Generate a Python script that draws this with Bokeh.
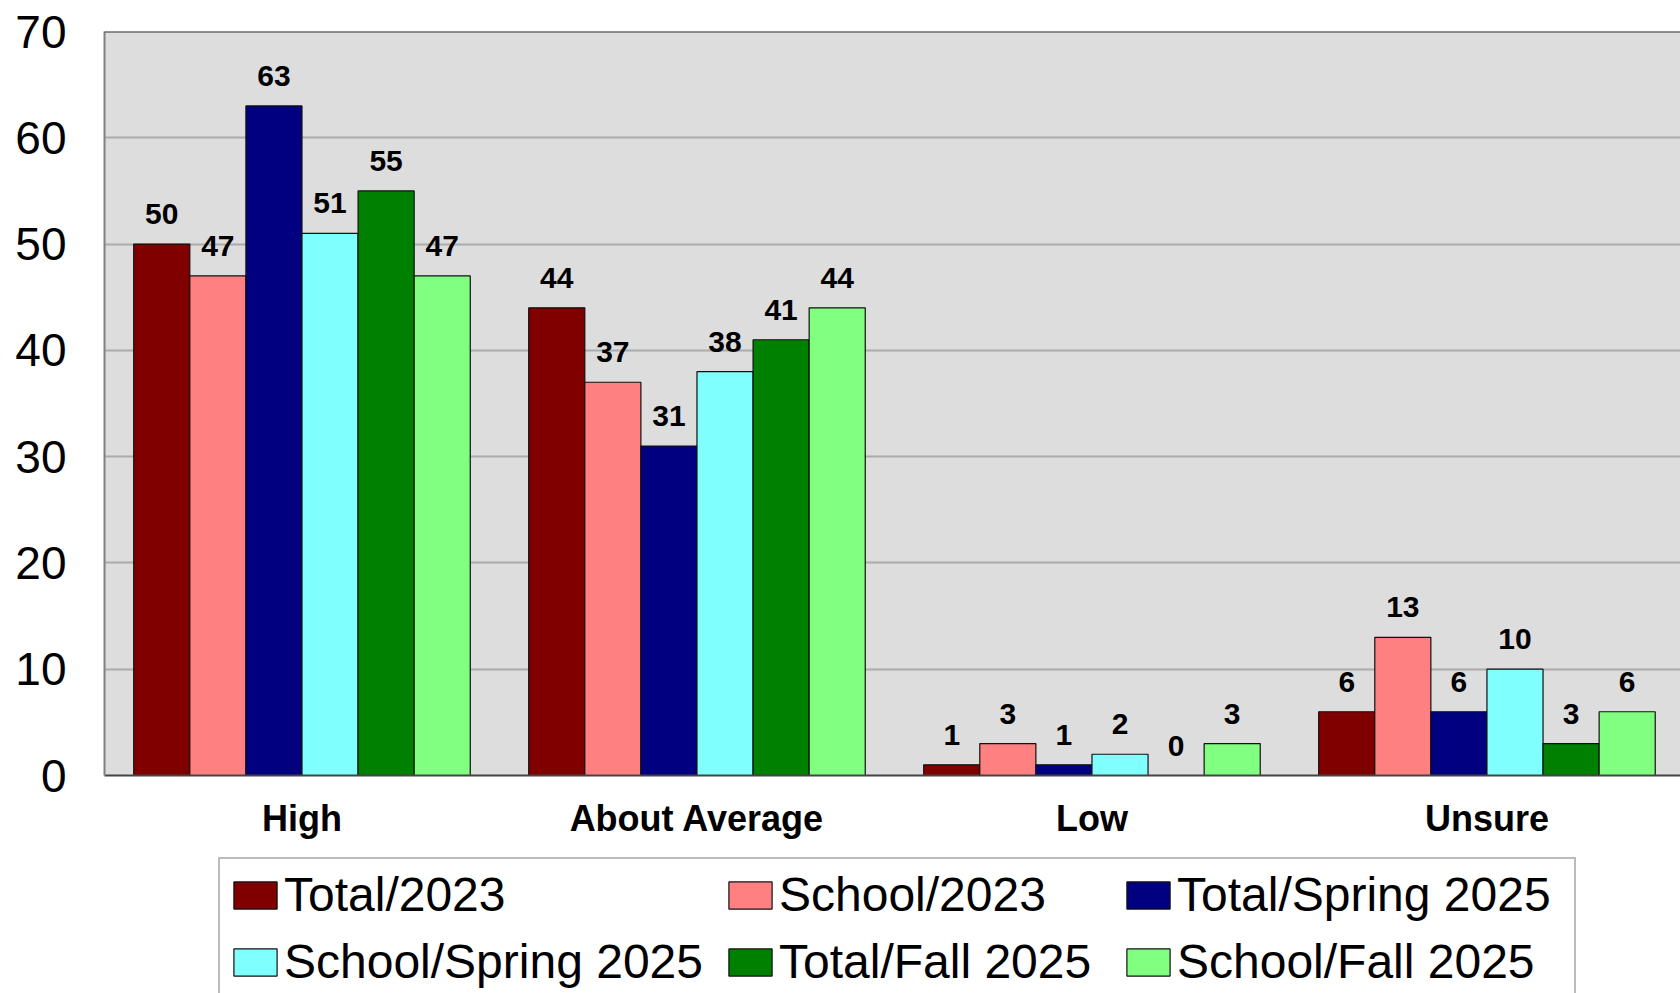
from bokeh.plotting import figure
from bokeh.layouts import column
from bokeh.models import (ColumnDataSource, Range1d, FixedTicker, Legend, LegendItem,
                          LabelSet, Span, Label)
from bokeh.core.properties import value
from bokeh.transform import dodge
from bokeh.embed import file_html
from bokeh.resources import INLINE

# ---- data ----
categories = ["High", "About Average", "Low", "Unsure"]
series_names = ["Total/2023", "School/2023", "Total/Spring 2025",
                "School/Spring 2025", "Total/Fall 2025", "School/Fall 2025"]
total_2023 = [50, 44, 1, 6]
school_2023 = [47, 37, 3, 13]
total_spring_2025 = [63, 31, 1, 6]
school_spring_2025 = [51, 38, 2, 10]
total_fall_2025 = [55, 41, 0, 3]
school_fall_2025 = [47, 44, 3, 6]
y_ticks = [0, 10, 20, 30, 40, 50, 60, 70]
page_number = "11"

series_values = [total_2023, school_2023, total_spring_2025,
                 school_spring_2025, total_fall_2025, school_fall_2025]
colors = ["#800000", "#FF8080", "#000080", "#80FFFF", "#008000", "#80FF80"]

FONT = "Liberation Sans"

xc = list(range(len(categories)))
data = {"xc": xc}
for i, vals in enumerate(series_values):
    data[f"s{i}"] = vals
    data[f"t{i}"] = [str(v) for v in vals]
source = ColumnDataSource(data)

# ---- main chart ----
p = figure(width=1680, height=855, output_backend="svg", toolbar_location=None,
           x_range=Range1d(-0.5, 3.49), y_range=Range1d(0, 70),
           min_border_left=104, min_border_right=0, min_border_top=31,
           min_border_bottom=80)

p.background_fill_color = "#DDDDDD"
p.border_fill_color = "white"
p.outline_line_color = None

bw = 0.142
for i in range(6):
    off = (i - 2.5) * bw
    p.vbar(x=dodge("xc", off, range=p.x_range), top=f"s{i}", width=bw,
           source=source, fill_color=colors[i], line_color="#111111",
           line_width=1.2)
    lbl = LabelSet(x=dodge("xc", off, range=p.x_range), y=f"s{i}", text=f"t{i}",
                   source=source, y_offset=20, text_align="center",
                   text_baseline="alphabetic", text_font=value(FONT),
                   text_font_style="bold", text_font_size="30px",
                   text_color="black")
    p.add_layout(lbl)

p.yaxis.ticker = FixedTicker(ticks=y_ticks)
p.yaxis.major_label_text_font = FONT
p.yaxis.major_label_text_font_size = "46px"
p.yaxis.major_label_text_color = "black"
p.yaxis.major_tick_in = 0
p.yaxis.major_tick_out = 0
p.yaxis.minor_tick_line_color = None
p.yaxis.axis_line_color = "#808080"
p.yaxis.axis_line_width = 2
p.yaxis.major_label_standoff = 38

p.xaxis.ticker = FixedTicker(ticks=xc)
p.xaxis.major_label_overrides = {i: c for i, c in enumerate(categories)}
p.xaxis.major_label_text_font = FONT
p.xaxis.major_label_text_font_style = "bold"
p.xaxis.major_label_text_font_size = "36px"
p.xaxis.major_label_text_color = "black"
p.xaxis.major_tick_in = 0
p.xaxis.major_tick_out = 0
p.xaxis.minor_tick_line_color = None
p.xaxis.axis_line_color = "#444444"
p.xaxis.axis_line_width = 2
p.xaxis.major_label_standoff = 22

p.xgrid.visible = False
p.ygrid.grid_line_color = "#7a7a7a"
p.ygrid.grid_line_width = 2
p.ygrid.grid_line_dash = "1 1"

p.add_layout(Span(location=70, dimension="width", line_color="#333333", line_width=2))

# ---- legend strip (second figure; its frame is aligned with the chart's) ----
q = figure(width=1680, height=138, output_backend="svg", toolbar_location=None,
           x_axis_type=None, y_axis_type=None,
           x_range=p.x_range, y_range=Range1d(1000, 1001),
           min_border_left=104, min_border_right=0, min_border_top=0,
           min_border_bottom=0)
q.outline_line_color = None
q.background_fill_color = "white"
q.border_fill_color = "white"
q.grid.visible = False

# swatch renderers use the same data; they fall outside this strip's y-range
swatches = [q.vbar(x="xc", top=f"s{i}", width=bw, source=source,
                   fill_color=colors[i], line_color="#111111", line_width=1.2)
            for i in range(6)]
items = [LegendItem(label=series_names[i], renderers=[swatches[i]]) for i in range(6)]

common = dict(orientation="vertical", spacing=12, padding=8, margin=0,
              glyph_width=54, glyph_height=34, label_standoff=2,
              label_text_font=FONT, label_text_font_size="48px",
              label_text_color="black")
legA = Legend(items=[items[0], items[3]], location=(114, -6),
              border_line_color="#777777", border_line_width=2,
              background_fill_color="white", background_fill_alpha=1.0,
              label_width=1282, **common)
legB = Legend(items=[items[1], items[4]], location=(619, 4),
              border_line_color=None, background_fill_alpha=0.0, **common)
legC = Legend(items=[items[2], items[5]], location=(1017, 4),
              border_line_color=None, background_fill_alpha=0.0, **common)
q.add_layout(legA, "center")
q.add_layout(legB, "center")
q.add_layout(legC, "center")

q.add_layout(Label(x=759, y=16, x_units="screen", y_units="screen", text=page_number,
                   text_font=FONT, text_font_size="24px", text_align="center",
                   text_baseline="middle", text_color="black"))

layout = column(p, q, spacing=0)
open("out.html", "w").write(file_html(layout, INLINE))
